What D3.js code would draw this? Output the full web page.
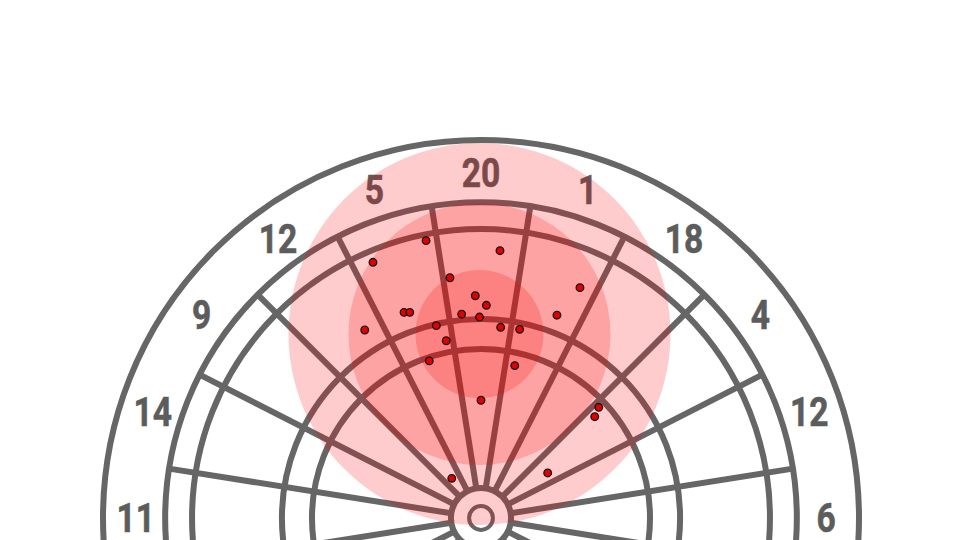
<!DOCTYPE html>
<html>
<head>
<meta charset="utf-8">
<script src="https://cdn.jsdelivr.net/npm/d3@7"></script>
<style>
  html, body { margin: 0; padding: 0; background: #fff; }
  svg { display: block; }
  .num { font-family: "Roboto", "Liberation Sans", sans-serif; font-weight: bold; }
</style>
</head>
<body>
<svg id="chart" width="960" height="540"></svg>
<script>
// ---- data (board units, mm-like; y positive = up) ----
const segmentLabels = ["20","1","18","4","12","6","10","15","2","17","3","19","7","16","8","11","14","9","12","5"];
const ringRadii = [17.9, 100.6, 118.5, 172, 188, 225];   // outer bull, treble in/out, double in/out, board edge
const bullRadius = 7.1;
const spokeInner = 17.9;
const spokeOuter = 188;
const labelRadius = 205.5;
const throwX = [-32.7, 11.3, -64.3, -18.5, 58.9, -3.4, 3.2, -45.8, -42.4, -11.5, -0.9, 45.2, -69.2, -26.6, 11.7, 23.0, -20.7, -30.8, 20.1, 0.0, 70.1, 67.7, -17.4, 39.7];
const throwY = [165.1, 159.1, 152.2, 143.0, 137.1, 132.3, 126.6, 122.4, 122.4, 121.3, 119.6, 120.7, 111.9, 114.5, 113.5, 112.3, 105.5, 93.5, 90.7, 70.1, 65.9, 60.3, 23.6, 26.8];
const spreadCenter = [-0.9, 109.5];
const spreadRadii = [113.7, 78.0, 38.1];

// ---- layout ----
const W = 960, H = 540;
const cx = 481, cy = 518;
const r = d3.scaleLinear().domain([0, 225]).range([0, 378]);
const sx = d3.scaleLinear().domain([-225, 225]).range([cx - 378, cx + 378]);
const sy = d3.scaleLinear().domain([-225, 225]).range([cy + 378, cy - 378]);

const svg = d3.select("#chart");
const board = svg.append("g");
const lineColor = "#666666";

// rings
board.selectAll("circle.ring").data(ringRadii).join("circle")
  .attr("class", "ring")
  .attr("cx", cx).attr("cy", cy)
  .attr("r", d => r(d))
  .attr("fill", "none").attr("stroke", lineColor).attr("stroke-width", 6);

board.append("circle")
  .attr("cx", cx).attr("cy", cy).attr("r", r(bullRadius))
  .attr("fill", "none").attr("stroke", lineColor).attr("stroke-width", 4);

// spokes (segment boundaries)
const bounds = d3.range(20).map(i => (9 + 18 * i) * Math.PI / 180);
board.selectAll("line.spoke").data(bounds).join("line")
  .attr("class", "spoke")
  .attr("x1", a => cx + r(spokeInner) * Math.sin(a))
  .attr("y1", a => cy - r(spokeInner) * Math.cos(a))
  .attr("x2", a => cx + r(spokeOuter) * Math.sin(a))
  .attr("y2", a => cy - r(spokeOuter) * Math.cos(a))
  .attr("stroke", lineColor).attr("stroke-width", 6);

// numbers (only those that fall inside the visible area)
const labelData = segmentLabels.map((d, i) => {
  const a = i * 18 * Math.PI / 180;
  return { text: d, x: cx + r(labelRadius) * Math.sin(a), y: cy - r(labelRadius) * Math.cos(a) };
}).filter(d => d.y < H + 5);

board.selectAll("text.num").data(labelData).join("text")
  .attr("class", "num")
  .attr("transform", d => `translate(${d.x},${d.y}) scale(0.84,1)`)
  .attr("dy", "0.36em")
  .attr("text-anchor", "middle")
  .attr("font-size", 40)
  .attr("fill", "#5c5c5c")
  .attr("stroke", "#5c5c5c").attr("stroke-width", 0.6)
  .text(d => d.text);

// spread circles
svg.append("g").selectAll("circle").data(spreadRadii).join("circle")
  .attr("cx", sx(spreadCenter[0])).attr("cy", sy(spreadCenter[1]))
  .attr("r", d => r(d))
  .attr("fill", "#f80000").attr("fill-opacity", 0.2);

// throws
svg.append("g").selectAll("circle").data(throwX).join("circle")
  .attr("cx", d => sx(d))
  .attr("cy", (d, i) => sy(throwY[i]))
  .attr("r", 3.8)
  .attr("fill", "#e00000").attr("stroke", "#111").attr("stroke-width", 1.3);
</script>
</body>
</html>
